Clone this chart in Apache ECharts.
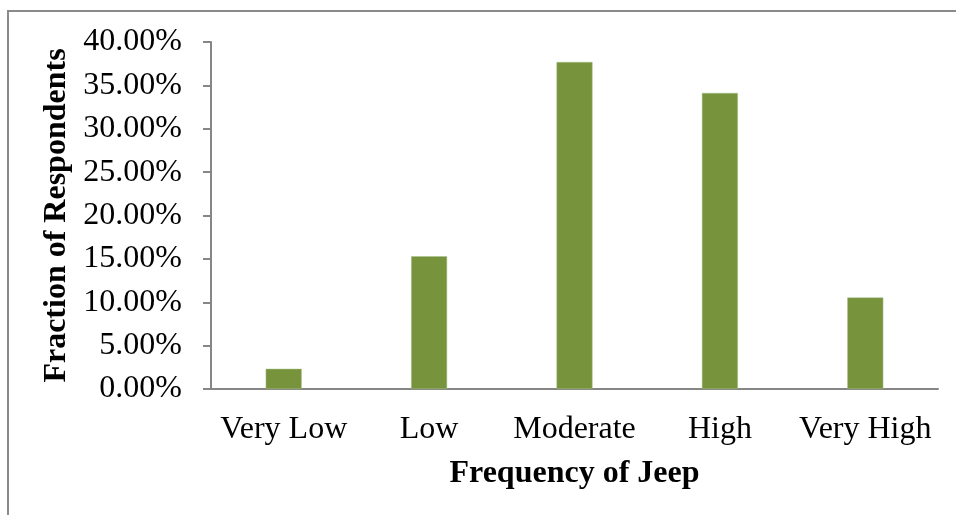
<!DOCTYPE html>
<html>
<head>
<meta charset="utf-8">
<script src="https://cdn.jsdelivr.net/npm/echarts@6/dist/echarts.min.js"></script>
<style>
html,body{margin:0;padding:0;background:#fff;}
#chart{width:956px;height:515px;}
</style>
</head>
<body>
<div id="chart"></div>
<script>
const categories = ['Very Low', 'Low', 'Moderate', 'High', 'Very High'];
const fractions = [0.0233, 0.1530, 0.3770, 0.3413, 0.1055];
const yTicks = { min: 0, max: 0.40, interval: 0.05 };
const xAxisTitle = 'Frequency of Jeep';
const yAxisTitle = 'Fraction of Respondents';

const font = '"Liberation Serif", "Times New Roman", serif';
const chart = echarts.init(document.getElementById('chart'), null, { renderer: 'canvas' });
chart.setOption({
  animation: false,
  backgroundColor: '#ffffff',
  graphic: [{
    type: 'rect',
    shape: { x: 8, y: 11, width: 1000, height: 600 },
    style: { fill: 'none', stroke: '#8a8a8a', lineWidth: 2 },
    silent: true
  }],
  grid: { left: 211, right: 18, top: 42, bottom: 126, containLabel: false },
  xAxis: {
    type: 'category',
    data: categories,
    name: xAxisTitle,
    nameLocation: 'middle',
    nameGap: 69,
    nameTextStyle: { fontFamily: font, fontSize: 32, fontWeight: 'bold', color: '#000' },
    axisLine: { show: true, lineStyle: { color: '#868686', width: 2 } },
    axisTick: { show: false },
    axisLabel: { fontFamily: font, fontSize: 32, color: '#000', margin: 25, interval: 0 },
    splitLine: { show: false }
  },
  yAxis: {
    type: 'value',
    min: yTicks.min,
    max: yTicks.max,
    interval: yTicks.interval,
    name: yAxisTitle,
    nameLocation: 'middle',
    nameGap: 127,
    nameRotate: 90,
    nameTextStyle: { fontFamily: font, fontSize: 32, fontWeight: 'bold', color: '#000' },
    axisLine: { show: true, lineStyle: { color: '#868686', width: 2 } },
    axisTick: { show: true, inside: false, length: 8, lineStyle: { color: '#868686', width: 2 } },
    axisLabel: {
      fontFamily: font, fontSize: 32, color: '#000', margin: 29,
      formatter: v => (v * 100).toFixed(2) + '%'
    },
    splitLine: { show: false }
  },
  series: [{
    type: 'bar',
    data: fractions,
    barWidth: 36,
    itemStyle: { color: '#77933C', borderColor: '#a9c08a', borderWidth: 0.5 }
  }]
});
</script>
</body>
</html>
